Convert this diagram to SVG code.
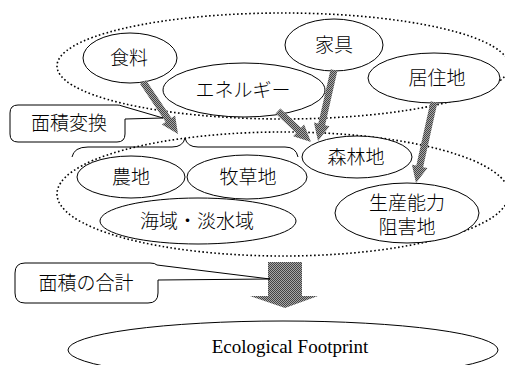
<svg xmlns="http://www.w3.org/2000/svg" width="505" height="365" viewBox="0 0 505 365">
<defs>
<pattern id="dither" width="2" height="2" patternUnits="userSpaceOnUse">
<rect width="2" height="2" fill="#a8a8a8"/>
<rect width="1" height="1" fill="#444"/>
<rect x="1" y="1" width="1" height="1" fill="#444"/>
</pattern>
<style>
.dot{fill:none;stroke:#000;stroke-width:1.6;stroke-dasharray:1.6 2.4}
.nd{fill:#fff;stroke:#000;stroke-width:1}
.ln{fill:none;stroke:#000;stroke-width:1}
.ar{fill:url(#dither);stroke:none}
.jp{font-family:"Liberation Serif","Noto Sans CJK JP",serif;font-size:19px;font-weight:300;fill:#000;text-anchor:middle}
.en{font-family:"Liberation Serif",serif;font-size:19px;fill:#000;text-anchor:middle}
</style>
</defs>
<rect width="505" height="365" fill="#fff"/>
<g id="groups">
<ellipse class="dot" cx="283" cy="66" rx="226" ry="53"/>
<ellipse class="dot" cx="283" cy="194" rx="226" ry="62"/>
</g>
<g id="n-food"><ellipse class="nd" cx="130" cy="58" rx="47" ry="25"/><text class="jp" x="129" y="65">食料</text></g>
<g id="n-energy"><ellipse class="nd" cx="244" cy="90" rx="81" ry="27"/><text class="jp" x="243" y="97">エネルギー</text></g>
<g id="n-furniture"><ellipse class="nd" cx="334" cy="45" rx="49" ry="26"/><text class="jp" x="334" y="52">家具</text></g>
<g id="n-housing"><ellipse class="nd" cx="434" cy="78" rx="66" ry="25"/><text class="jp" x="437" y="85">居住地</text></g>
<g id="n-forest"><ellipse class="nd" cx="357" cy="157" rx="55" ry="21"/><text class="jp" x="356" y="164">森林地</text></g>
<g id="n-farm"><ellipse class="nd" cx="131" cy="177" rx="54" ry="21"/><text class="jp" x="131" y="184">農地</text></g>
<g id="n-pasture"><ellipse class="nd" cx="247" cy="177" rx="60" ry="22"/><text class="jp" x="248" y="184">牧草地</text></g>
<g id="n-water"><ellipse class="nd" cx="198" cy="221" rx="98" ry="23"/><text class="jp" x="197" y="228">海域・淡水域</text></g>
<g id="n-built"><ellipse class="nd" cx="407" cy="213" rx="72" ry="30"/><text class="jp" x="407" y="210">生産能力</text><text class="jp" x="407" y="234">阻害地</text></g>
<g id="connectors">
<path class="ln" d="M72,157 Q74,147 88,147 L172,147 Q183,147 185,138 Q187,147 198,147 L285,147 Q296,147 298,157"/>
<polygon class="ar" points="140.1,84.0 165.6,121.9 161.9,124.4 178,134 175.1,115.4 171.4,117.9 145.9,80.0"/>
<polygon class="ar" points="275.6,113.6 296.2,133.0 293.1,136.2 311,142 304.1,124.6 301.0,127.8 280.4,108.4"/>
<polygon class="ar" points="330.6,69.2 318.3,123.6 313.9,122.6 318,141 329.5,126.2 325.1,125.2 337.4,70.8"/>
<polygon class="ar" points="430.6,101.2 416.3,165.6 411.9,164.7 416,183 427.5,168.1 423.1,167.2 437.4,102.8"/>
<polygon class="ar" points="268,262 302,262 302,296 318,296 285,308 250,296 268,296"/>
</g>
<g id="n-convert"><path class="nd" d="M10,113 Q10,105 18,105 L117,105 Q120,105 122,106 L163,118 L125,119 L125,134 Q125,142 117,142 L18,142 Q10,142 10,134 Z"/><text class="jp" x="69" y="130">面積変換</text></g>
<g id="n-sum"><path class="nd" d="M15,273 Q15,263 25,263 L150,263 Q155,263 157,265 L270,279 L158,280 L158,293 Q158,303 148,303 L25,303 Q15,303 15,293 Z"/><text class="jp" x="86" y="290">面積の合計</text></g>
<g id="n-ef"><ellipse class="nd" cx="283" cy="350" rx="215" ry="29"/><text class="en" x="290" y="353">Ecological Footprint</text></g>
</svg>
